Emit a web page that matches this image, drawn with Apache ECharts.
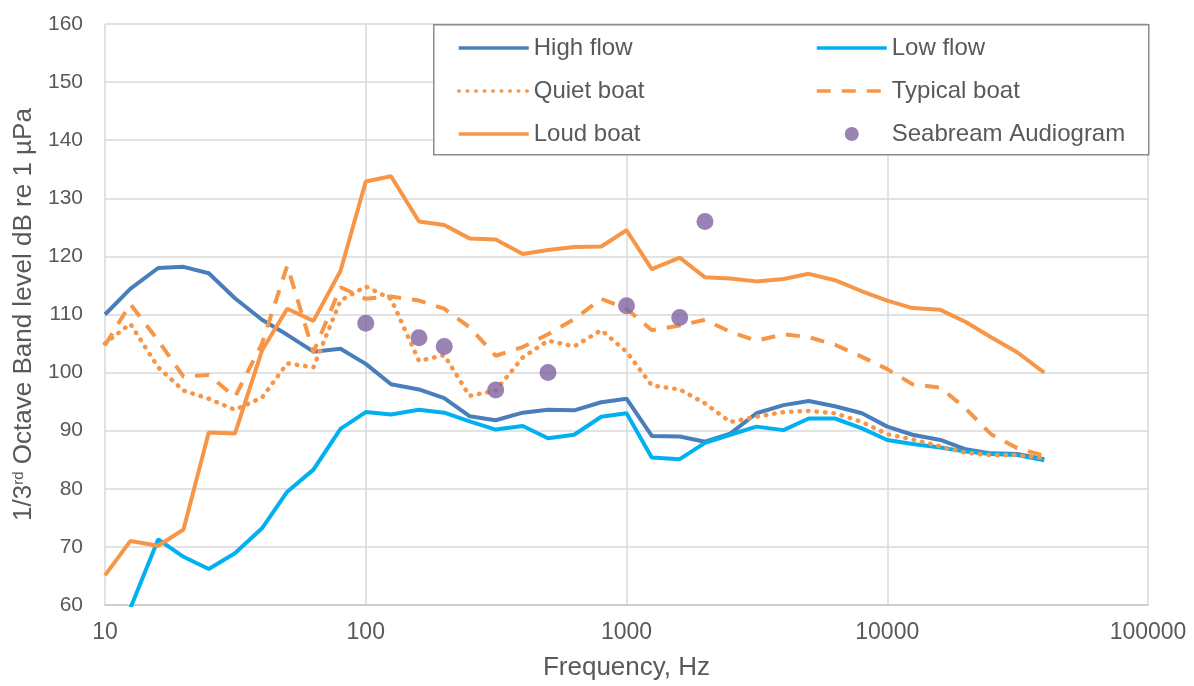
<!DOCTYPE html>
<html>
<head>
<meta charset="utf-8">
<title>Octave band levels</title>
<script src="https://cdn.jsdelivr.net/npm/echarts@6/dist/echarts.min.js"></script>
<style>
  html, body { margin: 0; padding: 0; background: #fff; }
  #chart { width: 1194px; height: 686px; }
</style>
</head>
<body>
<div id="chart"></div>
<script>
// 1/3 octave band centre frequencies (Hz)
var freqs = [10, 12.5, 16, 20, 25, 31.5, 40, 50, 63, 80, 100, 125, 160, 200, 250, 315, 400, 500, 630, 800,
  1000, 1250, 1600, 2000, 2500, 3150, 4000, 5000, 6300, 8000, 10000, 12500, 16000, 20000, 25000, 31500, 40000];

var highFlow = [110.0, 114.4, 118.0, 118.2, 117.1, 112.8, 109.1, 106.5, 103.6, 104.1, 101.5, 98.0, 97.1, 95.6, 92.5, 91.8, 93.1, 93.6, 93.5, 94.9,
  95.5, 89.1, 89.0, 88.1, 89.5, 93.0, 94.4, 95.1, 94.2, 93.0, 90.7, 89.3, 88.4, 86.8, 86.1, 86.0, 85.1];
var lowFlow = [57.0, 59.4, 71.3, 68.3, 66.2, 68.9, 73.2, 79.5, 83.3, 90.3, 93.2, 92.8, 93.6, 93.1, 91.6, 90.2, 90.8, 88.7, 89.3, 92.4,
  93.0, 85.4, 85.1, 87.9, 89.3, 90.7, 90.1, 92.1, 92.1, 90.4, 88.4, 87.7, 87.1, 86.4, 86.0, 85.8, 84.9];
var quietBoat = [105.0, 108.4, 100.9, 96.9, 95.5, 93.6, 95.7, 101.6, 100.9, 112.4, 114.8, 112.7, 102.0, 103.0, 96.0, 96.9, 102.6, 105.5, 104.5, 107.3,
  103.6, 97.8, 97.1, 94.7, 91.5, 92.4, 93.2, 93.4, 93.0, 91.5, 89.4, 88.5, 87.3, 86.2, 85.8, 85.8, 85.3];
var typicalBoat = [104.7, 111.8, 105.5, 99.3, 99.6, 95.8, 105.0, 118.4, 103.5, 114.7, 112.7, 113.1, 112.4, 111.0, 107.8, 102.9, 104.4, 106.6, 109.2, 112.7,
  111.0, 107.3, 108.1, 109.1, 107.0, 105.5, 106.6, 106.1, 104.8, 102.7, 100.6, 98.0, 97.4, 93.8, 89.4, 87.0, 85.7];
var loudBoat = [65.1, 71.0, 70.2, 73.0, 89.7, 89.5, 103.8, 111.0, 108.9, 117.5, 132.9, 133.8, 126.0, 125.4, 123.1, 122.9, 120.4, 121.1, 121.6, 121.7,
  124.5, 117.8, 119.8, 116.4, 116.2, 115.7, 116.1, 117.0, 115.9, 114.0, 112.4, 111.1, 110.8, 108.7, 106.1, 103.5, 100.0];

var audiogramFreqs = [100, 160, 200, 315, 500, 1000, 1600, 2000];
var audiogram = [108.5, 106.0, 104.5, 97.0, 100.0, 111.5, 109.5, 126.0];

var yTicks = [60, 160, 10]; // min, max, step
var xRange = [10, 100000];

var textColor = "#595959";
var gridColor = "#d9d9d9";
var font = "Liberation Sans, Arial, sans-serif";

function pairs(xs, ys) {
  var out = [];
  for (var i = 0; i < xs.length; i++) {
    out.push([xs[i], ys[i]]);
  }
  return out;
}

function lineSeries(name, values, color, style) {
  var ls = { color: color, width: 4, type: "solid" };
  if (style === "dash") {
    ls.type = [14, 11];
  }
  if (style === "dot") {
    ls.type = [0.5, 8];
    ls.cap = "round";
    ls.width = 4.5;
  }
  return {
    name: name,
    type: "line",
    symbol: "none",
    color: color,
    lineStyle: ls,
    data: pairs(freqs, values),
    z: 2
  };
}

// legend entries for lines: hide the marker dot, keep only the line
function lineItem(name) {
  return { name: name, itemStyle: { opacity: 0 } };
}

var legendBase = {
  orient: "vertical",
  top: 31,
  itemWidth: 70,
  itemHeight: 14,
  itemGap: 19,
  selectedMode: false,
  lineStyle: { width: 3.5 },
  textStyle: { fontSize: 24, color: textColor, fontFamily: font, lineHeight: 22 }
};

var option = {
  animation: false,
  textStyle: { fontFamily: font },
  grid: {
    left: 105,
    right: 46,
    top: 24,
    bottom: 81,
    containLabel: false,
    outerBoundsMode: "none"
  },
  legend: [
    Object.assign({}, legendBase, {
      left: 452,
      data: [lineItem("High flow"), lineItem("Quiet boat"), lineItem("Loud boat")]
    }),
    Object.assign({}, legendBase, {
      left: 810,
      data: [lineItem("Low flow"), lineItem("Typical boat"), { name: "Seabream Audiogram" }]
    })
  ],
  graphic: [
    {
      type: "rect",
      left: 433,
      top: 24,
      z: 1,
      shape: { width: 715, height: 130 },
      style: { fill: "#ffffff", stroke: "#8c8c8c", lineWidth: 1.5 }
    }
  ],
  xAxis: {
    type: "log",
    logBase: 10,
    min: xRange[0],
    max: xRange[1],
    name: "Frequency, Hz",
    nameLocation: "middle",
    nameGap: 50,
    nameTextStyle: { fontSize: 26, color: textColor, fontFamily: font },
    axisLine: { show: true, lineStyle: { color: "#c8c8c8", width: 1.5 } },
    axisTick: { show: false },
    axisLabel: {
      fontSize: 23,
      color: textColor,
      margin: 16,
      formatter: function (v) { return String(Math.round(v)); }
    },
    splitLine: { show: true, lineStyle: { color: gridColor, width: 1.5 } }
  },
  yAxis: {
    type: "value",
    min: yTicks[0],
    max: yTicks[1],
    interval: yTicks[2],
    name: "1/3{sup|rd} Octave Band level dB re 1 µPa",
    nameLocation: "middle",
    nameRotate: 90,
    nameGap: 68,
    nameTextStyle: {
      fontSize: 26,
      color: textColor,
      fontFamily: font,
      rich: {
        sup: { fontSize: 15, color: textColor, verticalAlign: "top", lineHeight: 15, fontFamily: font }
      }
    },
    axisLine: { show: false },
    axisTick: { show: false },
    axisLabel: { fontSize: 21, color: textColor, margin: 22 },
    splitLine: { show: true, lineStyle: { color: gridColor, width: 1.5 } }
  },
  series: [
    lineSeries("High flow", highFlow, "#4a7ebb", "solid"),
    lineSeries("Low flow", lowFlow, "#00b0f0", "solid"),
    lineSeries("Quiet boat", quietBoat, "#f79646", "dot"),
    lineSeries("Typical boat", typicalBoat, "#f79646", "dash"),
    lineSeries("Loud boat", loudBoat, "#f79646", "solid"),
    {
      name: "Seabream Audiogram",
      type: "scatter",
      symbol: "circle",
      symbolSize: 17,
      color: "#8064a2",
      itemStyle: { color: "#8064a2" },
      data: pairs(audiogramFreqs, audiogram),
      z: 3
    }
  ]
};

var myChart = echarts.init(document.getElementById("chart"));
myChart.setOption(option);
</script>
</body>
</html>
